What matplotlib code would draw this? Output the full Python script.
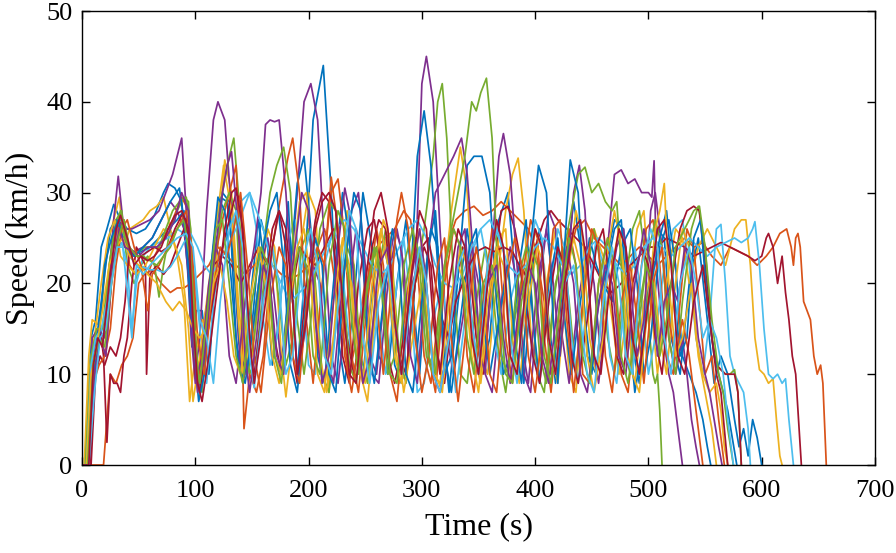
import matplotlib
matplotlib.use("Agg")
import matplotlib.pyplot as plt

# ---------------- data: (time s, speed km/h) turning points ----------------
blue_1 = [(0,0),(3,0),(8,14),(12,16),(17,24),(22,26),(28,28.7),(34,27),(40,26),(48,25.5),(56,26),(64,27.5),(72,30),(76,31),(82,30.5),(88,29),(93,22),(97,13),(101,17),(106,17),(112,10),(118,22),(124,30),(130,29),(136,14),(142,9),(150,20),(156,27),(162,21),(168,11),(174,16),(182,29),(190,10),(196,20),(204,38),(213,44),(220,30),(226,14),(232,9),(240,18),(248,30),(256,24),(262,12),(270,10),(278,20),(286,27),(292,19),(298,10),(306,24),(312,28),(318,16),(324,8),(332,18),(340,26),(346,20),(352,10),(360,14),(368,27),(376,30),(384,18),(390,9),(398,22),(404,26),(412,16),(418,9),(426,20),(434,29),(440,24),(446,12),(454,10),(462,22),(470,27),(478,26),(486,13),(492,9),(500,20),(508,26),(514,25),(520,14),(528,10),(536,20),(544,25),(552,16),(558,9),(564,12),(570,10),(576,5),(580,2),(584,4),(588,1),(592,5),(596,3),(600,0)]
blue_2 = [(0,0),(4,0),(9,12),(14,15),(19,20),(25,26),(30,27),(36,25),(44,23),(52,23.5),(60,24),(68,25),(76,26),(84,27),(90,28),(95,20),(99,12),(104,9),(110,16),(116,24),(122,29.5),(128,29),(134,22),(140,12),(146,10),(152,18),(158,27),(164,24),(170,12),(176,10),(184,22),(190,31),(196,34),(202,26),(208,12),(214,9),(222,20),(230,30),(236,25),(242,12),(248,10),(256,19),(264,26),(270,22),(276,11),(282,9),(290,20),(296,34),(302,39),(308,33),(314,22),(320,10),(326,12),(334,24),(340,33),(346,34),(353,34),(360,30),(366,18),(372,10),(378,12),(386,22),(392,27),(398,16),(404,9),(412,20),(420,25),(426,16),(432,10),(440,18),(448,25),(454,22),(460,20),(468,18),(476,24),(484,26),(490,20),(496,10),(502,14),(510,24),(518,27),(524,22),(530,12),(536,10),(542,8),(548,5),(552,2),(555,0)]
blue_3 = [(0,0),(5,0),(10,10),(15,14),(20,22),(26,25),(32,27),(38,24),(46,23),(54,24),(62,25),(70,27),(78,29),(86,30.5),(92,25),(98,14),(103,7),(108,10),(114,22),(120,29.5),(126,28),(132,20),(138,11),(144,9),(152,16),(160,24),(166,28),(172,30),(178,22),(184,11),(190,8),(198,18),(206,25),(212,22),(218,10),(224,8),(232,22),(240,30),(246,28),(252,14),(258,9),(266,18),(274,26),(280,22),(286,10),(292,8),(300,18),(308,26),(314,24),(320,12),(326,8),(334,16),(342,24),(348,26),(354,16),(360,10),(368,16),(376,22),(382,14),(388,9),(396,24),(403,33),(410,30),(416,16),(420,9),(426,24),(431,33.6),(438,30),(444,16),(450,10),(456,18),(464,22),(470,26),(476,27),(482,16),(488,8),(496,14),(504,21),(510,25),(516,28),(522,20),(528,12),(534,14),(540,25),(546,27),(552,18),(558,12),(562,10),(566,8),(570,6),(574,3),(578,0)]

orange_1 = [(0,0),(19,0),(22,5),(25,10),(30,9),(35,11),(40,12),(45,14),(50,20),(55,21),(62,21.5),(70,20),(78,19),(84,19.5),(90,19.5),(96,20),(104,21),(112,22),(120,24),(128,23),(136,22),(144,21),(152,22),(160,23),(168,22),(176,21),(184,20.5),(192,21),(200,22),(208,24),(214,26),(220,23),(228,16),(236,10),(244,15),(252,22),(260,24),(268,25),(276,26),(284,28),(290,27),(296,22),(302,12),(308,9),(314,16),(322,24),(330,27),(338,28),(346,28.5),(354,27.5),(362,28),(370,29),(378,28),(386,27),(394,26),(400,24),(408,18),(414,10),(420,14),(428,22),(436,26),(444,27),(452,25),(460,24),(468,23),(476,22),(484,23),(492,24),(500,23),(508,22),(516,23),(524,24),(532,25),(540,24),(548,24.5),(556,23),(564,22),(572,24),(580,23.5),(588,23),(596,22),(604,23),(610,24),(616,25.5),(622,26),(626,24),(628,22),(630,25),(632,25.5),(634,24),(637,18),(640,17),(643,16),(646,12),(649,10),(652,11),(654,9),(657,0)]
orange_2 = [(0,0),(6,0),(11,12),(16,14),(21,12),(26,20),(32,26),(37,27),(42,22),(47,21),(52,22),(58,21),(64,23),(72,25),(80,27),(88,29.5),(94,28),(98,18),(102,9),(108,14),(116,22),(124,27),(130,30),(136,33),(140,22),(143,4),(148,10),(154,8),(160,12),(168,24),(176,30),(182,34),(186,36),(192,30),(198,16),(204,9),(212,20),(220,30),(226,31.5),(232,25),(238,12),(244,8),(252,18),(260,26),(266,22),(272,10),(278,7),(286,18),(294,25),(300,22),(306,12),(312,8),(320,20),(328,26),(334,24),(340,12),(346,8),(354,18),(362,26),(368,24),(374,14),(380,9),(388,20),(396,27),(402,25),(408,14),(414,8),(422,18),(430,26),(436,22),(442,10),(448,9),(456,20),(464,25),(470,20),(476,10),(482,8),(490,18),(498,26),(504,27),(510,22),(516,12),(522,10),(528,18),(534,26),(540,24),(546,16),(550,10),(556,12),(562,5),(567,0)]
orange_3 = [(0,0),(5,0),(10,9),(15,11),(20,12),(25,15),(30,22),(35,26),(40,27),(46,24),(52,22),(58,17),(62,21),(68,22),(76,24),(84,26),(92,28),(97,24),(102,14),(108,10),(114,18),(122,24),(128,23),(134,26),(140,30),(146,22),(152,12),(158,8),(166,18),(174,24),(180,22),(186,12),(192,9),(200,20),(208,24),(214,22),(220,31.7),(226,26),(232,12),(238,8),(246,15),(254,22),(260,18),(266,10),(272,18),(278,27),(282,30),(288,26),(294,14),(300,8),(306,12),(314,22),(320,25),(326,14),(332,7),(340,16),(348,24),(354,20),(360,10),(366,8),(374,20),(382,25),(388,22),(394,12),(400,8),(408,16),(416,26),(422,27),(428,16),(434,8),(442,18),(450,26),(456,24),(462,12),(468,8),(476,18),(484,22),(490,16),(496,9),(504,20),(512,24),(518,16),(524,12),(530,16),(536,12),(540,8),(544,4),(548,0)]

yellow_1 = [(0,0),(2,0),(6,12),(9,16),(14,15.5),(18,18),(22,24),(28,27),(33,29.5),(37,24),(42,26),(48,26.5),(54,27),(60,28),(66,28.5),(72,29.5),(78,26),(84,23),(90,18),(95,7),(100,12),(106,16),(112,15),(118,22),(126,33.6),(132,30),(138,18),(144,10),(150,12),(158,20),(164,26),(170,24),(176,12),(180,7.5),(186,14),(194,25),(200,30),(206,28),(212,16),(218,8),(226,20),(234,28),(240,22),(246,10),(252,7),(260,18),(268,25),(274,18),(280,9),(286,10),(294,20),(300,22),(306,14),(312,10),(318,18),(326,28),(334,35),(340,30),(346,18),(352,12),(358,10),(366,20),(374,28),(380,32),(385,33.8),(390,28),(396,15),(402,10),(410,20),(418,26),(424,20),(430,10),(436,8),(444,20),(452,26),(460,23),(468,16),(474,10),(482,18),(490,26),(496,28),(502,18),(508,10),(516,20),(524,26),(530,25),(536,20),(544,24),(552,26),(560,24),(568,22),(576,26),(582,27),(586,27),(590,22),(594,14),(598,10.5),(602,10),(606,9),(610,9.5),(613,5),(616,1),(618,0)]
yellow_2 = [(0,0),(3,0),(7,11),(12,15),(17,20),(23,25),(29,27),(34,23),(40,22),(48,21),(56,22),(64,24),(72,26),(80,25),(88,22),(94,15),(98,7),(104,12),(112,20),(120,28),(125,33),(132,28),(138,16),(142,10),(150,14),(158,22),(164,20),(170,12),(176,10),(184,20),(192,29),(198,30),(204,22),(210,12),(216,8),(224,16),(232,22),(238,20),(244,12),(250,9),(258,20),(266,27),(272,25),(278,14),(284,8),(292,14),(300,20),(306,16),(312,10),(318,8),(326,18),(334,24),(340,22),(346,12),(352,9),(360,18),(368,25),(374,26),(380,14),(386,9),(394,18),(402,24),(408,22),(414,12),(420,9),(428,20),(436,28),(442,25),(448,14),(454,10),(462,22),(470,28),(476,24),(482,12),(488,9),(496,18),(504,22),(510,14),(516,10),(522,18),(530,26),(536,24),(542,14),(548,10),(554,8),(560,9),(564,6),(567,2),(570,0)]
yellow_3 = [(0,0),(4,0),(8,10),(13,13),(18,17),(24,22),(30,24),(36,25),(42,23),(50,22),(58,21),(66,20),(74,18),(80,17),(86,18),(92,17),(98,15),(104,14),(110,15),(116,20),(122,22),(128,18),(134,12),(140,10),(148,18),(156,24),(162,20),(168,12),(174,9),(182,16),(190,24),(196,26),(202,20),(208,10),(214,8),(222,18),(230,25),(236,22),(242,12),(248,9),(256,20),(264,26),(270,22),(276,12),(282,9),(290,22),(298,26),(304,20),(310,10),(316,9),(324,18),(332,22),(338,20),(344,12),(350,8),(358,18),(366,24),(372,22),(378,12),(384,10),(392,18),(400,26),(406,24),(412,14),(418,10),(426,20),(434,25),(440,22),(446,12),(452,8),(460,14),(468,22),(474,26),(480,20),(486,10),(492,8),(500,18),(506,26),(510,28),(514,31),(518,20),(524,12),(530,14),(538,20),(544,12),(550,8),(556,4),(560,0)]

purple_1 = [(0,0),(5,0),(10,12),(14,15),(18,13),(22,18),(28,27),(32,31.8),(36,27),(40,24),(46,23.5),(54,24),(62,25),(70,27),(78,29),(84,28),(90,26),(96,18),(100,10),(104,14),(110,28),(116,38),(120,40),(126,38),(132,28),(138,14),(142,9),(150,14),(158,22),(164,25),(170,18),(176,11),(182,18),(190,30),(196,40),(202,42),(208,38),(214,24),(220,12),(226,9),(234,18),(242,26),(248,22),(254,12),(260,10),(268,20),(276,26),(282,24),(288,12),(294,20),(300,42),(304,45),(310,40),(316,26),(322,14),(328,10),(336,16),(344,24),(350,20),(356,10),(362,8),(370,18),(378,24),(384,20),(390,10),(396,8),(404,20),(412,28),(418,26),(424,14),(430,9),(438,18),(446,24),(452,20),(458,12),(464,24),(470,32),(476,32.5),(482,31),(488,31.5),(494,30),(500,30),(503,29.5),(505,33.5),(507,22),(512,15),(518,10),(522,8),(526,4),(530,0)]
purple_2 = [(0,0),(4,0),(9,14),(14,15),(20,14),(26,22),(32,27),(38,26),(44,26),(52,26.5),(60,27),(68,28),(74,30),(80,32),(86,35),(88,36),(92,28),(96,15),(100,9),(106,12),(112,20),(118,24),(124,22),(130,12),(136,9),(144,18),(152,24),(158,30),(162,37.5),(166,38),(170,37.8),(174,38),(180,30),(186,18),(190,10),(196,14),(204,22),(210,20),(216,12),(222,9),(230,20),(238,28),(244,30),(250,22),(256,10),(262,9),(270,20),(278,26),(284,22),(290,12),(296,9),(304,22),(312,30),(320,32),(328,34),(335,36),(340,32),(346,22),(352,12),(356,10),(362,24),(368,34),(372,36.5),(378,32),(384,22),(390,12),(394,9),(402,20),(410,26),(416,20),(422,12),(428,20),(434,30),(439,33),(444,28),(450,14),(456,9),(464,18),(472,24),(478,26),(484,20),(490,12),(496,16),(502,28),(506,30),(512,24),(518,14),(524,10),(530,14),(534,10),(538,5),(542,2),(545,0)]
purple_3 = [(0,0),(6,0),(11,10),(16,14),(21,12),(27,22),(33,26),(38,24),(44,23.5),(50,23),(58,24),(66,24),(74,25),(82,27),(88,30),(94,28),(98,14),(102,8),(108,12),(116,22),(124,30),(128,33),(132,34.5),(138,26),(144,12),(148,8),(154,14),(160,22),(166,20),(172,12),(178,10),(186,22),(194,30),(200,28),(206,16),(212,9),(218,12),(226,24),(232,30.5),(236,28),(242,16),(248,9),(254,12),(262,22),(270,24),(276,16),(282,10),(290,20),(298,26),(304,20),(310,10),(316,8),(324,14),(332,24),(338,26),(344,16),(350,10),(358,20),(366,22),(372,14),(378,9),(386,18),(394,22),(400,20),(406,12),(412,9),(420,18),(428,24),(434,20),(440,10),(446,8),(454,16),(462,22),(468,20),(474,12),(480,10),(488,20),(496,26),(502,22),(508,12),(514,18),(520,20),(526,18),(532,24),(538,22),(544,14),(550,10),(554,8),(558,5),(562,2),(565,0)]

green_1 = [(0,0),(4,0),(9,12),(14,15),(19,15),(24,22),(30,27),(35,28),(40,22),(46,20),(52,22),(58,23),(64,22),(68,18.5),(72,22),(78,26),(84,28),(90,29.5),(94,29),(98,20),(102,10),(106,8),(112,18),(118,26),(124,30),(130,34),(134,36),(138,30),(144,15),(148,10),(154,12),(162,22),(168,24),(174,18),(180,11),(186,14),(194,24),(200,26),(206,20),(212,10),(218,8),(226,18),(234,24),(240,22),(246,12),(252,9),(260,20),(268,26),(274,22),(280,12),(286,9),(294,20),(302,26),(310,34),(314,40),(318,42),(322,36),(328,20),(334,10),(340,9),(348,18),(356,24),(362,20),(368,12),(374,8),(382,16),(390,22),(396,20),(402,10),(408,8),(416,18),(424,24),(430,18),(436,10),(444,20),(452,26),(458,22),(464,14),(470,10),(478,18),(486,26),(492,28),(496,24),(500,16),(504,10),(506,9),(508,10),(510,6),(512,0)]
green_2 = [(0,0),(3,0),(8,12),(13,15),(18,15),(24,22),(29,26),(34,28),(38,25),(44,23),(50,23.5),(56,24),(62,24),(68,24),(74,26),(80,28),(86,29),(92,29.5),(96,26),(100,14),(104,8),(110,14),(118,24),(124,28),(130,30),(136,28),(140,18),(146,10),(152,14),(160,24),(166,30),(172,33),(178,35),(184,30),(190,16),(196,10),(202,16),(210,26),(218,29),(224,28),(230,20),(236,11),(242,9),(250,18),(258,24),(264,20),(270,10),(276,12),(284,22),(292,26),(298,22),(304,12),(310,10),(318,20),(326,26),(332,30),(338,34),(344,40),(348,39),(352,41),(357,42.6),(362,36),(366,24),(370,12),(376,10),(384,20),(392,24),(398,22),(404,12),(410,9),(418,20),(426,24),(432,28),(438,32),(444,32.8),(450,30),(456,31),(462,29),(468,28),(472,29),(476,22),(480,12),(484,10),(490,14),(498,22),(506,27),(512,24),(518,14),(524,10),(530,18),(538,26),(544,28.5),(550,24),(556,14),(560,11),(564,10.5),(568,10),(572,10),(576,10.5),(579,8),(582,0)]
green_3 = [(0,0),(5,0),(10,11),(15,14),(20,13),(26,20),(32,25),(37,27),(42,24),(48,23),(54,23),(60,22.5),(66,22),(72,23),(78,24),(84,26),(90,27),(96,22),(100,12),(104,9),(110,16),(118,26),(124,27),(130,20),(136,12),(142,9),(150,18),(158,24),(164,22),(170,12),(176,9),(184,20),(192,24),(198,22),(204,12),(210,10),(218,22),(226,28),(232,26),(238,16),(244,10),(252,20),(260,24),(266,18),(272,10),(278,9),(286,20),(294,25),(300,22),(306,12),(312,10),(320,22),(328,26),(334,24),(340,14),(346,10),(354,20),(362,22),(368,18),(374,10),(380,9),(388,18),(396,24),(402,22),(408,12),(414,9),(422,18),(430,25),(436,22),(442,12),(448,9),(456,20),(464,25),(470,22),(476,12),(482,9),(490,16),(498,22),(504,20),(510,12),(516,16),(524,24),(532,26),(540,28),(545,28.5),(550,24),(556,16),(562,10),(566,8),(570,4),(575,0)]

cyan_1 = [(0,0),(5,0),(10,10),(15,14),(20,15.5),(25,20),(30,24),(35,24.5),(40,22),(44,15),(48,20),(54,23),(60,24),(68,24.5),(76,25),(84,26),(90,25.5),(96,24),(100,20),(104,15),(110,9),(116,18),(124,24),(132,26),(140,29),(148,30),(154,26),(160,16),(166,11),(172,14),(180,24),(188,27),(194,20),(200,11),(206,10),(214,22),(222,26),(228,24),(234,16),(240,10),(248,16),(256,22),(262,16),(268,10),(276,18),(284,25),(290,18),(296,8),(302,9),(310,16),(318,20),(324,14),(330,8),(338,16),(346,24),(352,26),(358,22),(364,14),(370,10),(378,18),(386,22),(392,18),(398,12),(404,10),(412,18),(420,26),(426,24),(432,14),(438,9),(446,18),(454,25),(460,22),(466,12),(472,9),(480,20),(488,24),(494,18),(500,10),(506,14),(514,22),(522,26),(530,27),(536,22),(542,14),(548,10),(554,16),(560,26),(564,26.5),(568,20),(572,12),(576,10),(580,9),(584,8),(588,4),(590,0)]
cyan_2 = [(0,0),(4,0),(8,11),(12,14),(17,15),(22,18),(27,22),(32,24),(37,24.5),(42,23),(48,22),(54,21.8),(60,21.5),(66,21.5),(72,21.2),(78,21.8),(84,23),(90,24.5),(96,25.5),(102,24),(108,22),(114,21),(120,22),(128,24),(136,26),(142,28),(148,30),(154,28),(160,26),(168,22),(176,20),(184,18),(192,19),(200,20),(208,22),(216,24),(224,26),(232,27),(240,26),(248,24),(256,22),(264,21),(272,22),(280,24),(288,26),(296,27),(304,25),(312,22),(320,20),(328,19.5),(336,21),(344,24),(352,26),(360,27),(368,25),(376,22),(384,21),(392,22),(400,24),(408,25),(416,24),(424,22),(432,21),(440,22),(448,24),(456,25),(464,24),(472,22),(480,21),(488,22),(496,24),(504,25),(512,24),(520,23),(528,24),(536,25),(544,24),(552,23),(560,24),(568,24.5),(576,25),(582,24.5),(588,25),(592,26),(594,26.8),(598,22),(602,15),(606,10),(610,9.5),(614,10),(618,9),(621,9.5),(624,5),(628,0)]
cyan_3 = [(0,0),(6,0),(11,8),(16,14),(21,15),(26,20),(31,24),(36,24),(41,18),(44,14),(48,22),(54,21),(60,22),(68,23),(76,24),(84,25),(92,25.5),(98,24),(104,16),(110,14),(116,9),(122,18),(130,26),(136,28),(142,24),(148,12),(152,8.5),(160,18),(168,24),(174,20),(180,10),(186,12),(194,22),(202,26),(208,22),(214,12),(220,10),(228,20),(236,28),(242,26),(248,14),(254,9),(262,18),(270,22),(276,16),(282,10),(290,18),(298,24),(304,20),(310,10),(316,8),(324,14),(332,22),(338,24),(344,16),(350,10),(358,22),(366,26),(372,24),(378,14),(384,9),(392,20),(400,27),(406,25),(412,14),(418,10),(426,20),(434,22),(440,16),(446,10),(452,8),(460,18),(468,24),(474,20),(480,12),(486,10),(494,22),(502,26),(508,24),(514,14),(520,10),(528,20),(536,24),(542,20),(548,14),(554,16),(560,14),(566,10),(570,5),(575,0)]

darkred_1 = [(0,0),(7,0),(10,8),(13,12),(16,15),(19,12),(22,2.5),(25,10),(28,9),(31,9),(34,8),(37,12),(40,14),(44,20),(48,24),(52,23),(56,22),(57,10),(60,21),(66,22),(72,21),(78,22),(84,24),(90,26),(94,24),(98,18),(102,9),(108,16),(116,22),(124,23),(132,22),(140,20),(148,22),(156,24),(164,22),(170,14),(176,10),(184,18),(192,24),(198,23),(206,22),(214,24),(222,26),(228,20),(234,14),(240,10),(248,16),(256,24),(262,27),(268,26),(274,18),(280,12),(286,10),(294,20),(302,24),(308,22),(314,12),(320,9),(328,18),(336,24),(342,22),(348,14),(354,10),(362,20),(370,28),(376,28.5),(382,26),(388,22),(394,20),(400,24),(408,27),(414,28),(420,27),(428,26),(436,25),(444,24),(452,22),(460,20),(468,19),(476,20),(484,22),(492,23),(500,24),(508,24),(516,25),(524,24.5),(532,24),(540,23),(548,23.5),(556,24),(564,24.5),(572,24),(580,23.5),(588,23),(594,22.5),(600,23),(604,25),(606,25.5),(610,24),(614,20),(618,23),(621,19),(624,16),(627,12),(630,10),(632,6),(635,0)]
darkred_2 = [(0,0),(8,0),(12,10),(16,12),(20,11),(25,13),(30,12),(34,14),(38,18),(42,24),(46,23),(52,23),(58,23.5),(64,24),(70,23.5),(76,24),(82,26),(88,27.5),(92,27),(96,20),(100,10),(104,8),(110,14),(118,20),(126,25),(132,28),(136,30),(140,29),(144,20),(148,12),(152,10),(160,18),(168,26),(174,28),(180,24),(186,12),(190,9),(198,20),(206,27),(212,30),(218,29),(224,22),(230,12),(236,9),(244,20),(252,26),(258,27),(264,22),(270,12),(276,9),(284,14),(292,20),(300,24),(306,25),(312,20),(318,16),(324,14),(330,18),(336,20),(342,22),(348,23.5),(356,24),(364,23.5),(372,24),(380,23.5),(386,22),(392,18),(398,12),(404,9),(412,18),(420,24),(426,22),(432,12),(438,9),(446,16),(454,24),(460,26),(466,20),(472,12),(478,10),(486,20),(494,24),(500,22),(506,14),(512,10),(520,20),(528,26),(534,28),(540,28.5),(545,28),(550,22),(556,14),(560,11),(564,10.5),(568,10),(572,10),(576,10),(579,8),(582,0)]
darkred_3 = [(0,0),(6,0),(10,11),(14,14),(18,13),(24,20),(30,26),(34,27.5),(40,25),(46,22),(52,23),(58,22.5),(64,23),(70,24),(76,26),(82,27.5),(88,28),(94,26),(98,16),(102,9),(106,7),(112,12),(120,20),(126,26),(132,30),(136,30.5),(142,26),(148,14),(152,9),(160,16),(168,24),(174,28),(180,26),(186,18),(190,10),(198,16),(206,26),(212,29),(218,30),(224,28),(230,18),(236,10),(242,9),(250,20),(258,28),(264,30),(270,26),(276,16),(282,10),(290,20),(298,28),(304,26),(310,16),(316,10),(324,20),(332,26),(338,24),(344,14),(350,10),(358,20),(366,27),(372,24),(378,12),(384,10),(392,20),(400,26),(406,24),(412,14),(418,10),(426,20),(434,26),(440,27),(446,22),(452,12),(458,10),(466,20),(474,26),(480,24),(486,14),(492,10),(500,18),(508,26),(514,27),(520,22),(526,12),(532,10),(540,18),(548,22),(554,16),(560,10),(564,8),(567,4),(570,0)]

# MATLAB default colour order, series plotted in that cyclic order
series = [blue_1, orange_1, yellow_1, purple_1, green_1, cyan_1, darkred_1,
          blue_2, orange_2, yellow_2, purple_2, green_2, cyan_2, darkred_2,
          blue_3, orange_3, yellow_3, purple_3, green_3, cyan_3, darkred_3]
colors = ["#0072BD", "#D95319", "#EDB120", "#7E2F8E", "#77AC30", "#4DBEEE", "#A2142F"]

x_ticks = [0, 100, 200, 300, 400, 500, 600, 700]
y_ticks = [0, 10, 20, 30, 40, 50]

# ---------------- figure ----------------
plt.rcParams['font.family'] = ['Liberation Serif', 'DejaVu Serif']
fig = plt.figure(figsize=(8.96, 5.53), dpi=100)
ax = fig.add_axes([82/896, 88/553, (875-82)/896, (465-11)/553])

for i, s in enumerate(series):
    t = [p[0] for p in s]
    v = [p[1] for p in s]
    ax.plot(t, v, color=colors[i % 7], lw=1.25, solid_joinstyle='round')

ax.set_xlim(0, 700)
ax.set_ylim(0, 50)
ax.set_xticks(x_ticks)
ax.set_yticks(y_ticks)
ax.tick_params(axis='both', direction='in', length=6, width=1.0, labelsize=19,
               top=True, right=True, colors='black')
ax.tick_params(axis='x', pad=11)
ax.tick_params(axis='y', pad=7)
for sp in ax.spines.values():
    sp.set_linewidth(1.0)
ax.set_xlabel('Time (s)', fontsize=23, labelpad=7)
ax.set_ylabel('Speed (km/h)', fontsize=23, labelpad=8)

fig.savefig('out.png', dpi=100)
